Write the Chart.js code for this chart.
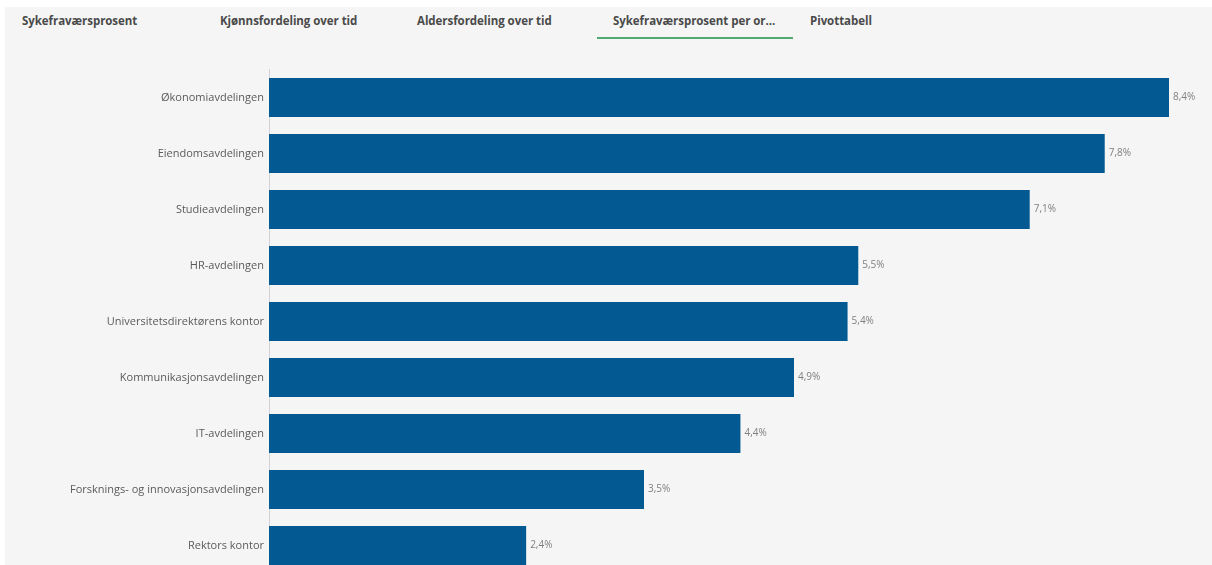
<!DOCTYPE html>
<html lang="no">
<head>
<meta charset="utf-8">
<title>Sykefraværsprosent per organisasjonsenhet</title>
<script src="https://cdn.jsdelivr.net/npm/chart.js@4/dist/chart.umd.min.js"></script>
<style>
  html, body { margin: 0; padding: 0; background: #ffffff; width: 1212px; height: 565px; overflow: hidden; }
  #panel { position: absolute; left: 5px; top: 7px; width: 1207px; height: 558px; background: #f5f5f5; }
  .tab { position: absolute; top: 6px; font-family: "Open Sans", sans-serif; font-weight: 700; font-size: 11.5px; color: #4a4a4a; white-space: nowrap; letter-spacing: -0.05px; }
  #underline { position: absolute; left: 592px; top: 30px; width: 196px; height: 2px; background: #52a96f; }
  /* the bar list continues below the visible panel, so the canvas is taller than the page */
  #wrap { position: absolute; left: 0; top: 0; width: 1212px; height: 576px; }
</style>
</head>
<body>
<div id="panel">
  <div class="tab" style="left:17px">Sykefraværsprosent</div>
  <div class="tab" style="left:215px">Kjønnsfordeling over tid</div>
  <div class="tab" style="left:412px">Aldersfordeling over tid</div>
  <div class="tab" style="left:608px">Sykefraværsprosent per or...</div>
  <div class="tab" style="left:805px">Pivottabell</div>
  <div id="underline"></div>
</div>
<div id="wrap"><canvas id="chart"></canvas></div>
<script>
// Organisational units and their sickness absence rate (%)
const units = [
  "Økonomiavdelingen",
  "Eiendomsavdelingen",
  "Studieavdelingen",
  "HR-avdelingen",
  "Universitetsdirektørens kontor",
  "Kommunikasjonsavdelingen",
  "IT-avdelingen",
  "Forsknings- og innovasjonsavdelingen",
  "Rektors kontor"
];
const absenceRate = [8.4, 7.8, 7.1, 5.5, 5.4, 4.9, 4.4, 3.5, 2.4];

const fmt = v => v.toFixed(1).replace('.', ',') + '%';

// Writes the value next to the end of each bar
const valueLabels = {
  id: 'valueLabels',
  afterDatasetsDraw(chart) {
    const ctx = chart.ctx;
    const meta = chart.getDatasetMeta(0);
    ctx.save();
    ctx.font = '10px "Open Sans", sans-serif';
    ctx.fillStyle = '#808080';
    ctx.textAlign = 'left';
    ctx.textBaseline = 'middle';
    meta.data.forEach((bar, i) => {
      ctx.fillText(fmt(chart.data.datasets[0].data[i]), bar.x + 4, bar.y);
    });
    ctx.restore();
  }
};

new Chart(document.getElementById('chart'), {
  type: 'bar',
  data: {
    labels: units,
    datasets: [{
      data: absenceRate,
      backgroundColor: '#035a92',
      borderWidth: 0,
      categoryPercentage: 0.7,
      barPercentage: 1.0
    }]
  },
  options: {
    indexAxis: 'y',
    responsive: true,
    maintainAspectRatio: false,
    animation: false,
    devicePixelRatio: 1,
    layout: { padding: { top: 69.5, right: 43, bottom: 2.5, left: 0 } },
    plugins: {
      legend: { display: false },
      tooltip: { enabled: false }
    },
    scales: {
      x: { display: false, min: 0, max: 8.4 },
      y: {
        afterFit(scale) {
          scale.width = 269;
          // labels sit inside their bands, so the axis needs no extra room above or below
          scale.paddingTop = 0;
          scale.paddingBottom = 0;
        },
        grid: { display: true, drawOnChartArea: false, drawTicks: false },
        border: { display: true, color: '#d2d2d2', width: 1 },
        ticks: {
          padding: 5,
          color: '#5a5a5a',
          font: { family: '"Open Sans", sans-serif', size: 11 }
        }
      }
    }
  },
  plugins: [valueLabels]
});
</script>
</body>
</html>
